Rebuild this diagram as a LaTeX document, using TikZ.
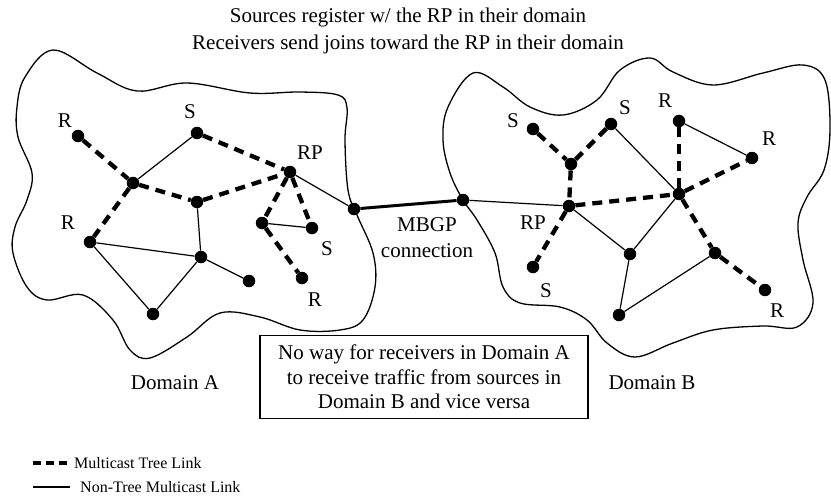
\documentclass[tikz,border=0pt]{standalone}
\usepackage{fontspec}
\setmainfont{Liberation Serif}
\begin{document}
\begin{tikzpicture}[x=1pt,y=-1pt,
  dot/.style={circle,fill=black,inner sep=0pt,minimum size=12.5pt},
  tree/.style={line width=4.3pt,dash pattern=on 10pt off 7pt},
  plain/.style={line width=1.2pt},
  mbgp/.style={line width=3pt},
  lbl/.style={font=\fontsize{21}{24}\selectfont,inner sep=0pt},
  legendlbl/.style={font=\fontsize{16}{19}\selectfont,inner sep=0pt,anchor=west},
  cloudline/.style={line width=1.3pt},
  boxstyle/.style={draw,line width=1.2pt,minimum width=328pt,minimum height=83pt,inner sep=0pt}]
\useasboundingbox (0,0) rectangle (831,503);
% clouds
\draw[cloudline] plot[smooth cycle,tension=0.6] coordinates {
 (53,50) (97,73) (137,91) (187,83) (250,93) (300,92) (338,95) (347,108) (345,140)
 (348,190) (357,215) (373,253) (375,287) (363,320) (340,330) (300,330) (260,317)
 (220,313) (187,337) (150,358) (130,350) (113,320) (83,295) (47,300) (27,287)
 (13,253) (15,227) (27,200) (32,173) (18,137) (17,107) (25,77)};
\draw[cloudline] plot[smooth cycle,tension=0.6] coordinates {
 (473,73) (503,87) (530,107) (563,115) (597,100) (620,70) (650,58) (673,72)
 (713,85) (763,73) (803,65) (825,80) (830,130) (824,170) (807,197) (798,223)
 (803,260) (813,303) (797,327) (763,326) (713,330) (673,343) (635,357) (607,343)
 (587,320) (560,307) (520,303) (503,287) (495,253) (477,220) (463,200) (450,173)
 (443,140) (448,107)};
% Domain A nodes
\node[dot] (aR1) at (78,136) {};
\node[dot] (aS1) at (197,133) {};
\node[dot] (aRP) at (290,172) {};
\node[dot] (a1) at (133,183) {};
\node[dot] (a2) at (197,202) {};
\node[dot] (aR2) at (90,242) {};
\node[dot] (a3) at (201,257) {};
\node[dot] (a4) at (249,281) {};
\node[dot] (a5) at (153,314) {};
\node[dot] (a6) at (262,223) {};
\node[dot] (aS2) at (312,228) {};
\node[dot] (aR3) at (302,278) {};
\node[dot] (aB) at (354,209) {};
% Domain B nodes
\node[dot] (bB) at (463,200) {};
\node[dot] (bS3) at (533,129) {};
\node[dot] (bS4) at (611,124) {};
\node[dot] (bY) at (571,164) {};
\node[dot] (bRP) at (569,206) {};
\node[dot] (bS5) at (533,267) {};
\node[dot] (bR4) at (679,121) {};
\node[dot] (bR5) at (752,158) {};
\node[dot] (bH) at (679,194) {};
\node[dot] (b7) at (630,254) {};
\node[dot] (b8) at (715,253) {};
\node[dot] (bR6) at (765,290) {};
\node[dot] (b9) at (619,315) {};
% links A
\draw[tree] (aR1) -- (a1);
\draw[tree] (a1) -- (a2);
\draw[tree] (a2) -- (aRP);
\draw[tree] (aS1) -- (aRP);
\draw[tree] (a1) -- (aR2);
\draw[tree] (aRP) -- (a6);
\draw[tree] (aRP) -- (aS2);
\draw[tree] (a6) -- (aR3);
\draw[plain] (aS1) -- (a1);
\draw[plain] (a2) -- (a3);
\draw[plain] (aR2) -- (a3);
\draw[plain] (a3) -- (a4);
\draw[plain] (a3) -- (a5);
\draw[plain] (aR2) -- (a5);
\draw[plain] (a6) -- (aS2);
\draw[plain] (aRP) -- (aB);
\draw[mbgp] (aB) -- (bB);
% links B
\draw[plain] (bB) -- (bRP);
\draw[plain] (bS4) -- (bH);
\draw[plain] (bRP) -- (b7);
\draw[plain] (b7) -- (bH);
\draw[plain] (b7) -- (b9);
\draw[plain] (b9) -- (b8);
\draw[plain] (bR4) -- (bR5);
\draw[tree] (bS3) -- (bY);
\draw[tree] (bS4) -- (bY);
\draw[tree] (bY) -- (bRP);
\draw[tree] (bRP) -- (bS5);
\draw[tree] (bRP) -- (bH);
\draw[tree] (bR4) -- (bH);
\draw[tree] (bH) -- (bR5);
\draw[tree] (bH) -- (b8);
\draw[tree] (b8) -- (bR6);
% labels
\node[lbl] (lR1) at (65,121) {R};
\node[lbl] (lS1) at (190,112) {S};
\node[lbl] (lRP) at (310,153) {RP};
\node[lbl] (lR2) at (68,223) {R};
\node[lbl] (lS2) at (327,249) {S};
\node[lbl] (lR3) at (315,300) {R};
\node[lbl] (lS3) at (513,121) {S};
\node[lbl] (lS4) at (625,108) {S};
\node[lbl] (lRPb) at (533,223) {RP};
\node[lbl] (lS5) at (546,291) {S};
\node[lbl] (lR4) at (665,101) {R};
\node[lbl] (lR5) at (769,139) {R};
\node[lbl] (lR6) at (777,311) {R};
\node[lbl] (mb1) at (427,225) {MBGP};
\node[lbl] (mb2) at (427,251) {connection};
\node[lbl] (t1) at (408,17) {Sources register w/ the RP in their domain};
\node[lbl] (t2) at (408,44) {Receivers send joins toward the RP in their domain};
\node[boxstyle] (box) at (424,377) {};
\node[lbl,align=center,font=\fontsize{21}{24.5}\selectfont] (boxtext) at (box) {No way for receivers in Domain A\\to receive traffic from sources in\\Domain B and vice versa};
\node[lbl] (dA) at (175,383) {Domain A};
\node[lbl] (dB) at (652,383) {Domain B};
% legend
\coordinate (l1a) at (33,463);
\coordinate (l1b) at (68,463);
\coordinate (l2a) at (33,487);
\coordinate (l2b) at (70,487);
\draw[line width=3.5pt,dash pattern=on 8pt off 5pt] (l1a) -- (l1b);
\draw[plain] (l2a) -- (l2b);
\node[legendlbl] (leg1) at (74,463) {Multicast Tree Link};
\node[legendlbl] (leg2) at (80,487) {Non-Tree Multicast Link};
\end{tikzpicture}
\end{document}
